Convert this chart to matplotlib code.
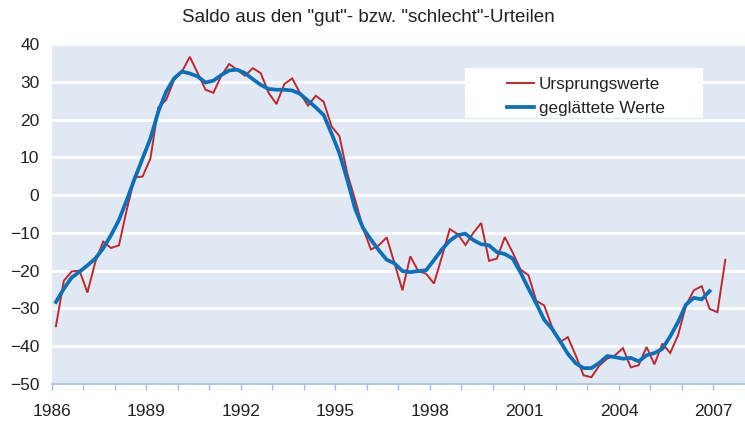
import numpy as np
import matplotlib
matplotlib.use("Agg")
import matplotlib.pyplot as plt
from matplotlib.patches import Rectangle

plt.rcParams['font.family'] = ['Liberation Sans', 'DejaVu Sans']

# Quarterly data, first quarter = 1986 Q1
start_year = 1986
ursprungswerte = [-34.7, -22.7, -20.2, -20.0, -25.8, -17.7, -12.3, -14.0, -13.3, -3.8,
                  4.7, 4.9, 9.7, 23.2, 25.2, 30.5, 32.7, 36.6, 32.3, 27.9,
                  27.1, 31.6, 34.7, 33.2, 31.6, 33.6, 32.3, 27.1, 24.1, 29.4,
                  30.9, 27.0, 23.7, 26.3, 24.7, 18.2, 15.6, 5.7, -1.3, -8.8,
                  -14.4, -13.3, -11.2, -18.1, -25.2, -16.2, -20.1, -20.8, -23.4, -16.4,
                  -9.0, -10.3, -13.2, -10.0, -7.4, -17.4, -16.8, -11.1, -15.2, -19.7,
                  -21.2, -28.0, -29.2, -34.9, -38.9, -37.6, -42.4, -47.7, -48.2, -45.1,
                  -43.3, -42.4, -40.5, -45.6, -45.0, -40.2, -44.8, -39.3, -41.8, -37.1,
                  -29.2, -25.2, -24.1, -30.1, -31.0, -17.1]
geglaettet = [-28.3, -24.8, -21.8, -20.3, -18.6, -16.8, -14.1, -10.6, -6.6, -1.3,
              4.4, 9.7, 15.0, 22.1, 27.4, 30.9, 32.7, 32.2, 31.4, 29.8,
              30.3, 31.8, 33.0, 33.2, 32.3, 30.7, 29.2, 28.1, 27.9, 27.9,
              27.7, 26.8, 25.0, 23.2, 21.2, 16.3, 11.1, 4.0, -3.7, -8.7,
              -11.8, -14.6, -17.1, -18.1, -20.1, -20.4, -20.1, -19.9, -17.2, -14.4,
              -12.1, -10.6, -10.2, -11.9, -13.0, -13.3, -15.1, -15.6, -16.8, -20.5,
              -24.7, -28.7, -33.0, -35.4, -38.6, -42.0, -44.5, -45.8, -45.8, -44.4,
              -42.6, -42.9, -43.3, -43.1, -44.0, -42.4, -41.8, -40.7, -37.4, -33.6,
              -29.0, -27.2, -27.6, -25.4]
year_ticks = list(range(1986, 2008))
year_labels = [str(y) if (y - 1986) % 3 == 0 else '' for y in year_ticks]
y_ticks = list(range(-50, 41, 10))
title = 'Saldo aus den "gut"- bzw. "schlecht"-Urteilen'
series_names = ['Ursprungswerte', 'geglättete Werte']

W, H = 745, 421
fig = plt.figure(figsize=(W / 100, H / 100), dpi=100)
ax = fig.add_axes([52 / W, 1 - 384 / H, (745 - 52) / W, (384 - 44) / H])

bg = '#E0E8F4'
ax.set_facecolor(bg)
red = '#C1272D'
blue = '#0A70BA'
tickc = '#A6BEE0'
txt = '#222222'

x_red = start_year + (np.arange(len(ursprungswerte)) + 0.5) / 4
x_blue = start_year + (np.arange(len(geglaettet)) + 0.5) / 4

l1, = ax.plot(x_red, ursprungswerte, color=red, lw=1.4, zorder=3, solid_joinstyle='miter')
l2, = ax.plot(x_blue, geglaettet, color=blue, lw=2.7, zorder=4, solid_joinstyle='round')

ax.set_xlim(1986, 2008)
ax.set_ylim(-50, 40)
ax.set_yticks(y_ticks)
ax.set_xticks(year_ticks)
ax.set_xticklabels(year_labels)
ax.grid(axis='y', color='white', lw=2.0, zorder=1)
ax.set_axisbelow(True)

for s in ['top', 'right', 'left']:
    ax.spines[s].set_visible(False)
ax.spines['bottom'].set_color(tickc)
ax.spines['bottom'].set_linewidth(1.2)

ax.tick_params(axis='y', length=0, pad=9, labelsize=12.5, labelcolor=txt)
ax.tick_params(axis='x', length=4.5, width=1.0, color=tickc, pad=9.8, labelsize=12.5,
               labelcolor=txt)

fig.text(368 / W, 1 - 18 / H, title, ha='center', va='center', fontsize=13.6, color=txt)

# legend box
rect = Rectangle((465 / W, 1 - 118 / H), (703 - 465) / W, 50 / H, transform=fig.transFigure,
                 facecolor='white', edgecolor='none', zorder=5)
fig.patches.append(rect)
leg = fig.legend([l1, l2], series_names, loc='upper left',
                 bbox_to_anchor=(507 / W, 1 - 77 / H), frameon=False, fontsize=12.3,
                 handlelength=1.6, handletextpad=0.25, labelspacing=0.5,
                 borderpad=0.0, borderaxespad=0.0)
for t in leg.get_texts():
    t.set_color(txt)
leg.set_zorder(6)

fig.savefig('out.png', dpi=100)
